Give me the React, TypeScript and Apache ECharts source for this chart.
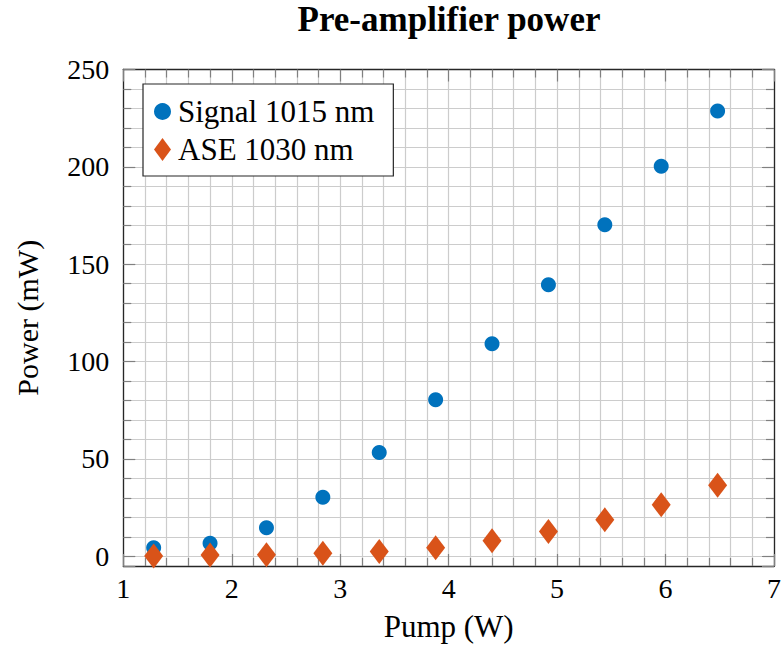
import React, { useEffect, useRef } from "react";
import * as echarts from "echarts";

const pump = [1.28, 1.8, 2.32, 2.84, 3.36, 3.88, 4.4, 4.92, 5.44, 5.96, 6.48];
const signal = [4.4, 6.7, 14.7, 30.3, 53.3, 80.4, 109.1, 139.4, 170.3, 200.3, 228.7];
const ase = [0.2, 0.7, 0.8, 1.5, 2.4, 4.4, 8.0, 12.7, 18.7, 26.4, 36.5];
const seriesNames = ["Signal 1015 nm", "ASE 1030 nm"];
const xRange = [1, 7];
const yRange = [-5, 250];

const FONT = "Liberation Serif";
const GRID = "#cccccc";
const TICK = "#808080";
const FRAME = "#262626";

export default function App() {
  const ref = useRef<HTMLDivElement>(null);
  useEffect(() => {
    if (!ref.current) return;
    const chart = echarts.init(ref.current, undefined, { renderer: "svg" });
    const xBase = {
      type: "value",
      min: xRange[0],
      max: xRange[1],
      interval: 1,
      axisLine: { show: true, onZero: false, lineStyle: { color: FRAME, width: 1.3 } },
      axisTick: { show: true, inside: true, length: 12, lineStyle: { color: TICK, width: 1.2 } },
      minorTick: { show: true, splitNumber: 5, length: 8, lineStyle: { color: TICK, width: 1.2 } },
    };
    const yBase = {
      type: "value",
      min: yRange[0],
      max: yRange[1],
      splitNumber: 5,
      axisLine: { show: true, onZero: false, lineStyle: { color: FRAME, width: 1.3 } },
      axisTick: { show: true, inside: true, length: 12, lineStyle: { color: TICK, width: 1.2 } },
      minorTick: { show: true, splitNumber: 5, length: 8, lineStyle: { color: TICK, width: 1.2 } },
    };
    chart.setOption({
      animation: false,
      backgroundColor: "#ffffff",
      title: {
        text: "Pre-amplifier power",
        left: 449,
        textAlign: "center",
        top: 2,
        padding: 0,
        textStyle: { fontFamily: FONT, fontSize: 35, fontWeight: "bold", color: "#000" },
      },
      legend: {
        orient: "vertical",
        left: 143,
        top: 84,
        padding: [12, 19, 11, 11],
        itemGap: 7,
        itemWidth: 17,
        itemHeight: 23,
        borderColor: FRAME,
        borderWidth: 1.2,
        borderRadius: 0,
        backgroundColor: "#ffffff",
        textStyle: { fontFamily: FONT, fontSize: 31, color: "#000", padding: [0, 0, 0, 2] },
        data: seriesNames,
      },
      grid: { left: 123.3, right: 7.5, top: 69.5, bottom: 82, containLabel: false },
      xAxis: [
        {
          ...xBase,
          position: "bottom",
          name: "Pump (W)",
          nameLocation: "middle",
          nameGap: 45,
          nameTextStyle: { fontFamily: FONT, fontSize: 31, color: "#000" },
          axisLabel: { fontFamily: FONT, fontSize: 28, color: "#000", margin: 8 },
          splitLine: { show: true, lineStyle: { color: GRID, width: 1.2 } },
          minorSplitLine: { show: true, lineStyle: { color: GRID, width: 1.2 } },
        },
        {
          ...xBase,
          position: "top",
          axisLabel: { show: false },
          splitLine: { show: false },
        },
      ],
      yAxis: [
        {
          ...yBase,
          position: "left",
          name: "Power (mW)",
          nameLocation: "middle",
          nameGap: 81,
          nameRotate: 90,
          nameTextStyle: { fontFamily: FONT, fontSize: 30, color: "#000" },
          axisLabel: {
            fontFamily: FONT,
            fontSize: 28,
            color: "#000",
            margin: 14,
            showMinLabel: false,
            formatter: (v: number) => (v < 0 ? "" : String(v)),
          },
          splitLine: { show: true, lineStyle: { color: GRID, width: 1.2 } },
          minorSplitLine: { show: true, lineStyle: { color: GRID, width: 1.2 } },
        },
        {
          ...yBase,
          position: "right",
          axisLabel: { show: false },
          splitLine: { show: false },
        },
      ],
      series: [
        {
          name: seriesNames[0],
          type: "scatter",
          xAxisIndex: 0,
          yAxisIndex: 0,
          symbol: "circle",
          symbolSize: 15,
          itemStyle: { color: "#0072BD", opacity: 1 },
          data: pump.map((x, i) => [x, signal[i]]),
          z: 3,
        },
        {
          name: seriesNames[1],
          type: "scatter",
          xAxisIndex: 0,
          yAxisIndex: 0,
          symbol: "diamond",
          symbolSize: [19, 25],
          itemStyle: { color: "#D95319", opacity: 1 },
          data: pump.map((x, i) => [x, ase[i]]),
          z: 4,
        },
      ],
    });
    return () => chart.dispose();
  }, []);
  return (
    <div
      ref={ref}
      style={{ position: "fixed", left: 0, top: 0, width: 784, height: 648 }}
    />
  );
}
